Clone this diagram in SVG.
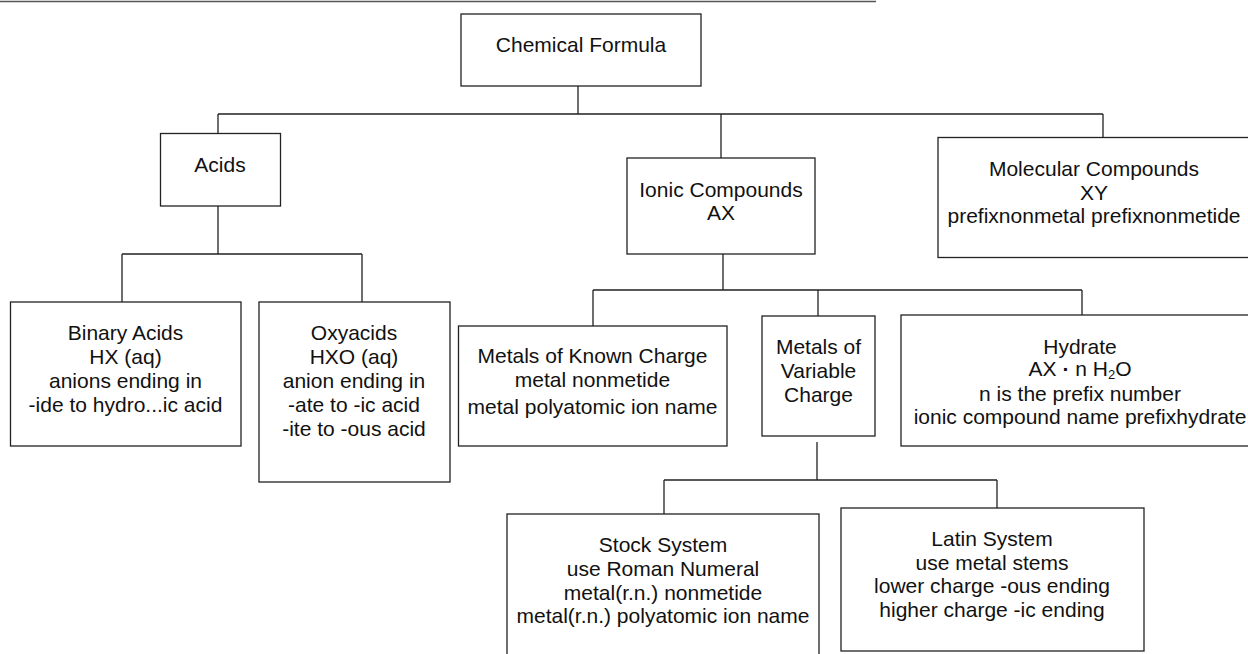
<svg xmlns="http://www.w3.org/2000/svg" width="1248" height="654" viewBox="0 0 1248 654">
<style>
.box{fill:#fff;stroke:#222;stroke-width:1.3}
.con{fill:none;stroke:#222;stroke-width:1.3}
text{font-family:"Liberation Sans",Arial,sans-serif;font-size:21px;fill:#111;text-anchor:middle}
</style>
<rect width="1248" height="654" fill="#fff"/>
<line x1="0" y1="1.5" x2="876" y2="1.5" stroke="#555" stroke-width="1.5"/>
<g id="connectors" class="con">
<path d="M578 86V114M218 114H1103M218 114V133M721 114V158M1103 114V137"/>
<path d="M218 206V254M122 254H362M122 254V302M362 254V302"/>
<path d="M723 254V290M593 290H1082M593 290V326M818 290V316M1082 290V315"/>
<path d="M817 442V480M664 480H997M664 480V514M997 480V508"/>
</g>
<g id="chemical-formula"><rect class="box" x="461" y="14" width="240" height="72"/><text x="581" y="52">Chemical Formula</text></g>
<g id="acids"><rect class="box" x="160.5" y="133.5" width="120" height="72.5"/><text x="220" y="172">Acids</text></g>
<g id="ionic"><rect class="box" x="627" y="158" width="188" height="96"/><text x="721" y="197">Ionic Compounds</text><text x="721" y="220">AX</text></g>
<g id="molecular"><rect class="box" x="938" y="137.5" width="314" height="120"/><text x="1094" y="176">Molecular Compounds</text><text x="1094" y="200">XY</text><text x="1094" y="223">prefixnonmetal prefixnonmetide</text></g>
<g id="binary"><rect class="box" x="10.5" y="302" width="230.5" height="144"/><text x="125.5" y="340">Binary Acids</text><text x="125.5" y="364">HX (aq)</text><text x="125.5" y="388">anions ending in</text><text x="125.5" y="412">-ide to hydro...ic acid</text></g>
<g id="oxyacids"><rect class="box" x="259" y="302" width="191" height="180"/><text x="354" y="340">Oxyacids</text><text x="354" y="364">HXO (aq)</text><text x="354" y="388">anion ending in</text><text x="354" y="412">-ate to -ic acid</text><text x="354" y="436">-ite to -ous acid</text></g>
<g id="known"><rect class="box" x="458.5" y="326" width="268.5" height="120"/><text x="592.5" y="363">Metals of Known Charge</text><text x="592.5" y="387">metal nonmetide</text><text x="592.5" y="414">metal polyatomic ion name</text></g>
<g id="variable"><rect class="box" x="762" y="316" width="113" height="120"/><text x="818.5" y="354">Metals of</text><text x="818.5" y="378">Variable</text><text x="818.5" y="402">Charge</text></g>
<g id="hydrate"><rect class="box" x="901" y="315" width="360" height="131"/><text x="1080" y="354">Hydrate</text><text x="1080" y="376">AX <tspan font-weight="bold">·</tspan> n H<tspan font-size="13" dy="3">2</tspan><tspan dy="-3">O</tspan></text><text x="1080" y="401">n is the prefix number</text><text x="1080" y="424">ionic compound name prefixhydrate</text></g>
<g id="stock"><rect class="box" x="507" y="514" width="312" height="150"/><text x="663" y="552">Stock System</text><text x="663" y="576">use Roman Numeral</text><text x="663" y="600">metal(r.n.) nonmetide</text><text x="663" y="623">metal(r.n.) polyatomic ion name</text></g>
<g id="latin"><rect class="box" x="841" y="508" width="303" height="143"/><text x="992" y="546">Latin System</text><text x="992" y="570">use metal stems</text><text x="992" y="593">lower charge -ous ending</text><text x="992" y="617">higher charge -ic ending</text></g>
</svg>
